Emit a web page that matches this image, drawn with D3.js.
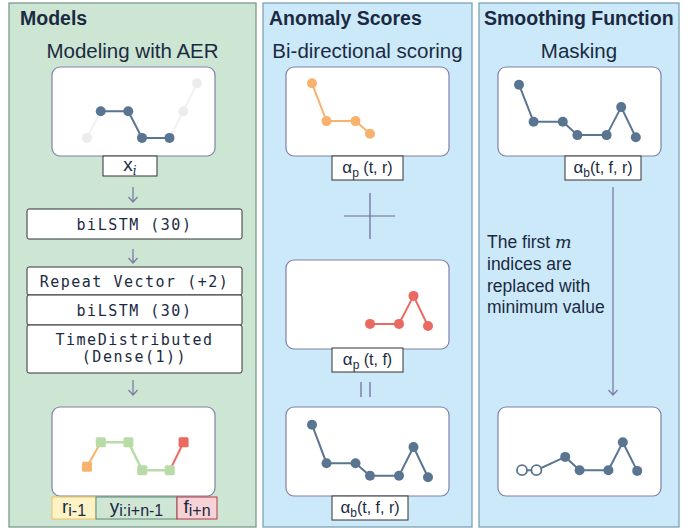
<!DOCTYPE html>
<html>
<head>
<meta charset="utf-8">
<script src="https://cdn.jsdelivr.net/npm/d3@7"></script>
<style>
  body { margin: 0; background: #fff; }
  text { font-family: "Liberation Sans", Arial, sans-serif; fill: #1b2a42; }
  .mono { font-family: "DejaVu Sans Mono", monospace; letter-spacing: 1.5px; }
</style>
</head>
<body>
<svg width="699" height="529"></svg>
<script>
// time steps shared by all mini series
const steps = [0, 1, 3, 4, 6, 7, 8];

// Models: input window x_i (first and last points faded)
const inputValues = [1.3, 5.1, 5.1, 1.3, 1.3, 5.1, 9.1];
const inputActive = [false, true, true, true, true, false, false];

// Models: reconstruction r / y / f
const reconSteps = [0, 1, 3, 4, 6, 7];
const reconValues = [2.9, 6.4, 6.4, 2.4, 2.4, 6.4];
const reconRole = ["r", "y", "y", "y", "y", "f"];

// Anomaly scores
const scoreRSteps = [0, 1, 3, 4];
const scoreRValues = [9.1, 3.7, 3.7, 1.9];
const scoreFSteps = [4, 6, 7, 8];
const scoreFValues = [2.3, 2.3, 6.3, 2.0];
const scoreBValues = [8.9, 3.4, 3.4, 1.6, 1.6, 5.7, 1.4];

// Smoothing
const smoothInValues = [8.9, 3.6, 3.6, 1.7, 1.7, 5.7, 1.4];
const maskedValues = [2.4, 2.4, 4.3, 2.4, 2.4, 6.4, 2.3];
const maskedOpen = [true, true, false, false, false, false, false];

const layers = ["biLSTM (30)", "Repeat Vector (+2)", "biLSTM (30)", "TimeDistributed|(Dense(1))"];

const dark = "#5a7591", gray = "#ececec", orange = "#f8b26d", red = "#ea6a62", green = "#b9dba8";
const frameStroke = "#8080a8";

const svg = d3.select("svg");

// panels
const panels = [
  {x: 9, w: 247, tx: 11, fill: "#cce6d3", stroke: "#7c9c8a", title: "Models", sub: "Modeling with AER"},
  {x: 263, w: 209, tx: 6, fill: "#cce9f9", stroke: "#7ba3b6", title: "Anomaly Scores", sub: "Bi-directional scoring"},
  {x: 479, w: 200, tx: 5, fill: "#cce9f9", stroke: "#7ba3b6", title: "Smoothing Function", sub: "Masking"}
];
panels.forEach(p => {
  svg.append("rect").attr("x", p.x).attr("y", 3).attr("width", p.w).attr("height", 524)
    .attr("fill", p.fill).attr("stroke", p.stroke).attr("stroke-width", 1.3);
  svg.append("text").attr("x", p.x + p.tx).attr("y", 25).attr("font-size", 19.5).attr("font-weight", "bold")
    .text(p.title);
  svg.append("text").attr("x", p.x + p.w / 2).attr("y", 58).attr("font-size", 20.5)
    .attr("text-anchor", "middle").text(p.sub);
});

function frame(bx, by, x0, unit) {
  const g = svg.append("g");
  g.append("rect").attr("x", bx).attr("y", by).attr("width", 163).attr("height", 89).attr("rx", 8)
    .attr("fill", "#fff").attr("stroke", frameStroke).attr("stroke-width", 1.2);
  const x = d3.scaleLinear().domain([0, 8]).range([x0, x0 + unit * 8]);
  const y = d3.scaleLinear().domain([0, 10]).range([by + 80, by + 10]);
  return {g, x, y};
}

function series(f, st, vals, color, r, opts = {}) {
  const pts = st.map((t, i) => [f.x(t), f.y(vals[i])]);
  f.g.append("path").attr("d", d3.line()(pts)).attr("fill", "none")
    .attr("stroke", color).attr("stroke-width", 2);
  f.g.selectAll(null).data(pts).enter().append("circle")
    .attr("cx", d => d[0]).attr("cy", d => d[1]).attr("r", r)
    .attr("fill", (d, i) => opts.open && opts.open[i] ? "#fff" : color)
    .attr("stroke", (d, i) => opts.open && opts.open[i] ? color : "none")
    .attr("stroke-width", 1.8);
}

function label(x, y, w, h, parts, fill = "#fff", stroke = "#333") {
  svg.append("rect").attr("x", x).attr("y", y).attr("width", w).attr("height", h)
    .attr("fill", fill).attr("stroke", stroke).attr("stroke-width", 1);
  const t = svg.append("text").attr("x", x + w / 2).attr("y", y + h / 2 + 5).attr("text-anchor", "middle");
  parts.forEach(p => {
    const ts = t.append("tspan").attr("font-size", p.size || 16).text(p.s);
    if (p.dy) ts.attr("dy", p.dy);
    if (p.style) ts.attr("font-style", p.style).attr("font-family", "DejaVu Serif, serif");
  });
}

function arrow(x, y1, y2) {
  svg.append("path").attr("d", `M${x},${y1}V${y2}M${x - 4.5},${y2 - 5}L${x},${y2}L${x + 4.5},${y2 - 5}`)
    .attr("fill", "none").attr("stroke", "#7c7ca6").attr("stroke-width", 1.3);
}

// ---- Models panel ----
const fIn = frame(52, 67, 87, 13.75);
const inPts = steps.map((t, i) => [fIn.x(t), fIn.y(inputValues[i])]);
fIn.g.append("path").attr("d", d3.line()(inPts)).attr("fill", "none").attr("stroke", "#f2f2f2").attr("stroke-width", 2);
fIn.g.append("path").attr("d", d3.line()(inPts.filter((d, i) => inputActive[i])))
  .attr("fill", "none").attr("stroke", dark).attr("stroke-width", 2);
fIn.g.selectAll(null).data(inPts).enter().append("circle")
  .attr("cx", d => d[0]).attr("cy", d => d[1]).attr("r", 5)
  .attr("fill", (d, i) => inputActive[i] ? dark : gray);
label(103, 156, 54, 20, [{s: "x", size: 19}, {s: "i", size: 12, dy: 4, style: "italic"}]);

arrow(133, 187, 202);
svg.append("rect").attr("x", 27).attr("y", 209).attr("width", 215).attr("height", 30).attr("rx", 2)
  .attr("fill", "#fff").attr("stroke", "#333");
svg.append("text").attr("class", "mono").attr("x", 134.5).attr("y", 229.5).attr("text-anchor", "middle")
  .attr("font-size", 15).text(layers[0]);
arrow(133, 249, 263);

const stack = [{y: 267, h: 28}, {y: 295, h: 30}, {y: 325, h: 48}];
stack.forEach((b, i) => {
  svg.append("rect").attr("x", 27).attr("y", b.y).attr("width", 215).attr("height", b.h).attr("rx", 2)
    .attr("fill", "#fff").attr("stroke", "#333");
  const lines = layers[i + 1].split("|");
  lines.forEach((l, j) => {
    svg.append("text").attr("class", "mono").attr("x", 134.5)
      .attr("y", b.y + (lines.length > 1 ? 20 + j * 17 : b.h / 2 + 5.5))
      .attr("text-anchor", "middle").attr("font-size", 15).text(l);
  });
});
arrow(133, 380, 395);

const fRec = frame(52, 407, 87, 13.8);
const recPts = reconSteps.map((t, i) => [fRec.x(t), fRec.y(reconValues[i]), reconRole[i]]);
fRec.g.append("path").attr("d", d3.line()(recPts.slice(0, 2))).attr("fill", "none").attr("stroke", orange).attr("stroke-width", 2);
fRec.g.append("path").attr("d", d3.line()(recPts.slice(1, 5))).attr("fill", "none").attr("stroke", green).attr("stroke-width", 2.5);
fRec.g.append("path").attr("d", d3.line()(recPts.slice(4))).attr("fill", "none").attr("stroke", red).attr("stroke-width", 2);
fRec.g.selectAll(null).data(recPts).enter().append("rect")
  .attr("x", d => d[0] - 5).attr("y", d => d[1] - 5).attr("width", 10).attr("height", 10).attr("rx", 1.5)
  .attr("fill", d => d[2] === "r" ? orange : d[2] === "f" ? red : green);

label(52, 497, 44, 22, [{s: "r", size: 19}, {s: "i-1", size: 16, dy: 3}], "#fdf3c6", "#f0c25e");
label(96, 497, 81, 22, [{s: "y", size: 19}, {s: "i:i+n-1", size: 16, dy: 3}], "#cfe6d5", "#5b8a70");
label(177, 497, 40, 22, [{s: "f", size: 19}, {s: "i+n", size: 16, dy: 3}], "#f7d3d8", "#b23444");

// ---- Anomaly scores panel ----
const fR = frame(286, 67, 312, 14.5);
series(fR, scoreRSteps, scoreRValues, orange, 5);
label(332, 156, 71, 24, [{s: "α", size: 17}, {s: "p", size: 12, dy: 4}, {s: " (t, r)", size: 16, dy: -4}]);

svg.append("path").attr("d", "M344,216H395M370,193V239").attr("stroke", "#6a6a90").attr("stroke-width", 1.2);

const fF = frame(286, 260, 312, 14.5);
series(fF, scoreFSteps, scoreFValues, red, 5);
label(332, 348, 71, 24, [{s: "α", size: 17}, {s: "p", size: 12, dy: 4}, {s: " (t, f)", size: 16, dy: -4}]);

svg.append("path").attr("d", "M361,382V397M370,382V397").attr("stroke", "#6a6a90").attr("stroke-width", 1.2);

const fB = frame(286, 407, 312, 14.5);
series(fB, steps, scoreBValues, dark, 5);
label(332, 496, 76, 24, [{s: "α", size: 17}, {s: "b", size: 12, dy: 4}, {s: "(t, f, r)", size: 16, dy: -4}]);

// ---- Smoothing panel ----
const fS = frame(498, 67, 519, 14.6);
series(fS, steps, smoothInValues, dark, 5);
label(565, 156, 76, 24, [{s: "α", size: 17}, {s: "b", size: 12, dy: 4}, {s: "(t, f, r)", size: 16, dy: -4}]);

arrow(613, 187, 395);

const note = svg.append("text").attr("font-size", 17.5);
note.append("tspan").attr("x", 487).attr("y", 248).text("The first ");
note.append("tspan").attr("font-family", "DejaVu Serif, serif").attr("font-style", "italic").text("m");
["indices are", "replaced with", "minimum value"].forEach((s, i) =>
  svg.append("text").attr("font-size", 17.5).attr("x", 487).attr("y", 270 + i * 21.5).text(s));

const fM = frame(498, 407, 522, 14.4);
series(fM, steps, maskedValues, dark, 5, {open: maskedOpen});
</script>
</body>
</html>
